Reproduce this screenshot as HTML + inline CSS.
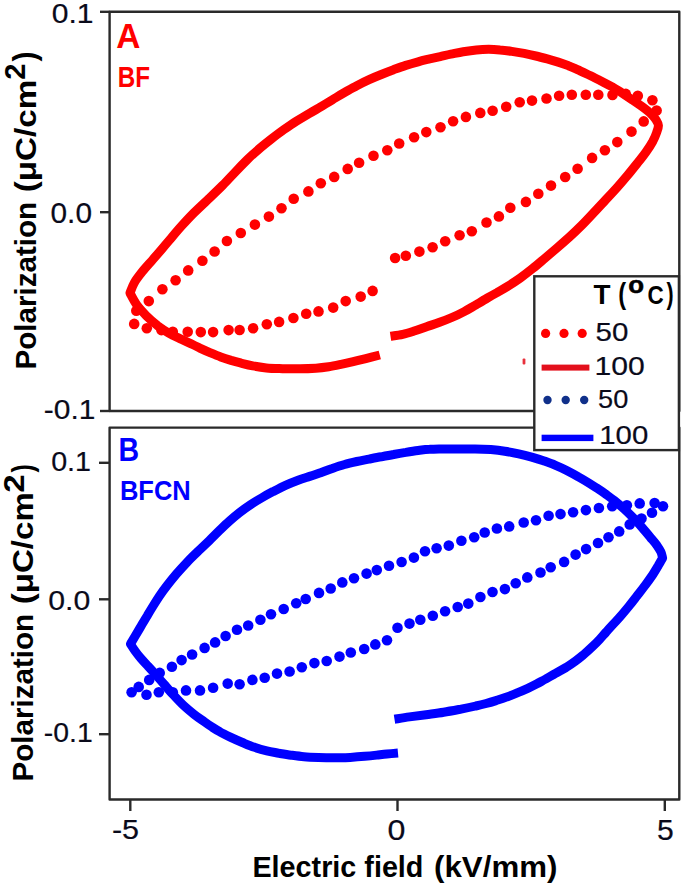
<!DOCTYPE html>
<html><head><meta charset="utf-8"><style>
html,body{margin:0;padding:0;background:#fff;}
svg{display:block;font-family:"Liberation Sans",sans-serif;}
</style></head><body>
<svg width="685" height="887" viewBox="0 0 685 887">
<rect width="685" height="887" fill="#fff"/>
<path d="M109.6,11.8 H679.3 V411 H109.6 Z" fill="none" stroke="#2a2a2a" stroke-width="2.4" stroke-linejoin="round"/>
<path d="M109.6,427.6 H679.3 V799.5 H109.6 Z" fill="none" stroke="#2a2a2a" stroke-width="2.4" stroke-linejoin="round"/>
<line x1="100" y1="11.8" x2="109.6" y2="11.8" stroke="#2a2a2a" stroke-width="2.4"/>
<line x1="100" y1="212.2" x2="109.6" y2="212.2" stroke="#2a2a2a" stroke-width="2.4"/>
<line x1="100" y1="411" x2="109.6" y2="411" stroke="#2a2a2a" stroke-width="2.4"/>
<line x1="99" y1="462.8" x2="109.6" y2="462.8" stroke="#2a2a2a" stroke-width="2.4"/>
<line x1="99" y1="599.3" x2="109.6" y2="599.3" stroke="#2a2a2a" stroke-width="2.4"/>
<line x1="99" y1="734.2" x2="109.6" y2="734.2" stroke="#2a2a2a" stroke-width="2.4"/>
<line x1="130.3" y1="799.5" x2="130.3" y2="811" stroke="#2a2a2a" stroke-width="2.4"/>
<line x1="397.5" y1="799.5" x2="397.5" y2="811" stroke="#2a2a2a" stroke-width="2.4"/>
<line x1="664.8" y1="799.5" x2="664.8" y2="811" stroke="#2a2a2a" stroke-width="2.4"/>
<path d="M390.5,336.2 C392.5,335.9 398.7,335.2 402.8,334.3 C406.9,333.5 410.9,332.1 415.0,330.8 C419.1,329.5 423.2,327.9 427.3,326.5 C431.4,325.1 435.5,323.8 439.6,322.3 C443.7,320.8 447.7,319.3 451.8,317.5 C455.9,315.8 460.1,313.8 464.2,311.6 C468.3,309.4 472.7,306.7 476.6,304.5 C480.4,302.2 484.0,300.0 487.4,298.0 C490.8,296.0 493.5,294.5 497.0,292.6 C500.4,290.6 504.1,288.5 508.0,286.1 C511.9,283.7 516.2,280.9 520.3,278.0 C524.4,275.1 528.5,271.9 532.6,268.6 C536.7,265.3 540.7,261.8 544.8,258.3 C548.9,254.8 553.0,251.3 557.1,247.8 C561.2,244.3 565.2,240.8 569.3,237.1 C573.4,233.4 577.5,229.5 581.5,225.5 C585.6,221.5 589.5,217.2 593.5,212.9 C597.5,208.7 601.5,204.3 605.4,200.1 C609.4,195.9 613.4,191.6 617.1,187.5 C620.9,183.3 624.3,179.3 627.7,175.2 C631.0,171.2 634.1,167.3 637.2,163.4 C640.3,159.5 643.5,155.5 646.1,151.8 C648.8,148.1 651.1,144.4 652.9,141.2 C654.6,138.0 655.7,135.2 656.6,132.6 C657.5,130.0 658.5,127.7 658.4,125.5 C658.3,123.3 657.1,121.6 655.8,119.5 C654.4,117.5 652.6,115.4 650.2,113.1 C647.8,110.8 644.4,108.3 641.1,105.9 C637.8,103.5 634.0,101.0 630.6,98.7 C627.2,96.4 623.9,94.2 620.9,92.2 C617.8,90.3 615.1,88.6 612.3,86.9 C609.4,85.3 606.7,83.9 603.8,82.4 C600.9,80.9 597.9,79.4 595.0,78.0 C592.1,76.6 589.2,75.1 586.3,73.7 C583.4,72.3 580.5,71.0 577.5,69.6 C574.5,68.3 571.6,66.9 568.4,65.7 C565.2,64.4 561.7,63.2 558.2,62.1 C554.6,61.0 550.9,59.9 547.2,58.9 C543.5,57.9 539.8,56.9 535.9,56.0 C532.1,55.1 528.1,54.2 524.1,53.4 C520.1,52.7 515.8,52.0 511.8,51.4 C507.8,50.8 503.9,50.3 500.0,50.0 C496.2,49.6 492.6,49.3 488.7,49.3 C484.7,49.3 480.6,49.5 476.4,49.9 C472.1,50.3 467.5,51.0 463.2,51.7 C459.0,52.4 454.8,53.4 450.9,54.2 C447.1,55.0 443.8,55.8 440.2,56.6 C436.7,57.4 433.4,58.1 429.7,58.9 C426.0,59.8 422.1,60.7 418.1,61.8 C414.1,62.9 409.9,64.1 405.8,65.4 C401.7,66.7 397.7,68.2 393.6,69.7 C389.5,71.2 385.4,72.8 381.3,74.5 C377.2,76.1 373.2,77.8 369.1,79.7 C365.0,81.6 360.9,83.6 356.8,85.7 C352.7,87.8 348.6,90.2 344.5,92.5 C340.4,94.8 336.3,97.4 332.3,99.8 C328.2,102.2 324.2,104.8 320.2,107.2 C316.2,109.5 312.3,111.8 308.2,114.1 C304.2,116.5 300.2,118.8 296.1,121.3 C292.0,123.9 287.9,126.8 283.8,129.7 C279.6,132.7 275.4,135.9 271.2,139.1 C267.1,142.3 263.0,145.5 259.0,149.0 C255.0,152.4 251.1,155.8 247.2,159.7 C243.2,163.6 239.1,167.9 235.1,172.2 C231.0,176.5 227.0,181.0 222.7,185.3 C218.3,189.7 213.8,194.0 209.0,198.6 C204.2,203.1 198.6,208.2 194.0,212.8 C189.4,217.4 185.2,222.0 181.5,226.1 C177.8,230.2 174.8,233.8 171.8,237.4 C168.7,241.0 166.0,244.1 162.9,247.8 C159.9,251.4 156.7,255.1 153.2,259.1 C149.8,263.1 145.5,267.6 142.4,271.6 C139.2,275.6 136.3,279.3 134.2,282.9 C132.2,286.4 130.7,291.3 130.0,293.0 C131.1,295.0 134.0,301.1 136.8,304.9 C139.6,308.8 143.3,312.6 146.7,316.1 C150.1,319.5 153.8,322.7 157.4,325.6 C161.1,328.4 164.8,330.8 168.8,333.1 C172.8,335.4 177.7,337.5 181.7,339.4 C185.6,341.3 189.5,343.0 192.6,344.5 C195.7,346.0 197.6,347.0 200.4,348.4 C203.2,349.7 206.0,351.0 209.4,352.4 C212.8,353.8 217.1,355.6 220.7,356.9 C224.3,358.2 227.7,359.3 231.1,360.4 C234.5,361.4 237.6,362.2 241.2,363.2 C244.8,364.1 248.6,365.1 252.8,365.9 C257.0,366.7 261.4,367.4 266.4,367.9 C271.3,368.4 277.0,368.5 282.6,368.7 C288.2,368.8 294.6,368.8 300.1,368.7 C305.6,368.7 311.1,368.5 315.9,368.2 C320.6,367.9 324.5,367.4 328.7,366.8 C332.9,366.2 336.8,365.3 340.9,364.4 C345.0,363.6 349.0,362.7 353.2,361.7 C357.4,360.7 361.4,359.7 365.8,358.6 C370.2,357.5 377.5,355.6 379.8,355.0" fill="none" stroke="#ff0000" stroke-width="9" stroke-linejoin="round" stroke-linecap="butt"/>
<circle cx="240.8" cy="233.0" r="5.3" fill="#ff0000"/>
<circle cx="226.9" cy="241.0" r="5.3" fill="#ff0000"/>
<circle cx="214.6" cy="251.5" r="5.3" fill="#ff0000"/>
<circle cx="202.4" cy="260.8" r="5.3" fill="#ff0000"/>
<circle cx="188.2" cy="270.4" r="5.3" fill="#ff0000"/>
<circle cx="175.6" cy="280.2" r="5.3" fill="#ff0000"/>
<circle cx="162.4" cy="289.2" r="5.3" fill="#ff0000"/>
<circle cx="486.5" cy="222.5" r="5.3" fill="#ff0000"/>
<circle cx="498.9" cy="216.4" r="5.3" fill="#ff0000"/>
<circle cx="510.3" cy="207.8" r="5.3" fill="#ff0000"/>
<circle cx="525.9" cy="201.9" r="5.3" fill="#ff0000"/>
<circle cx="538.3" cy="193.7" r="5.3" fill="#ff0000"/>
<circle cx="551.0" cy="185.6" r="5.3" fill="#ff0000"/>
<circle cx="565.2" cy="177.0" r="5.3" fill="#ff0000"/>
<circle cx="577.6" cy="168.8" r="5.3" fill="#ff0000"/>
<circle cx="592.1" cy="157.9" r="5.3" fill="#ff0000"/>
<circle cx="604.9" cy="150.2" r="5.3" fill="#ff0000"/>
<circle cx="617.3" cy="142.1" r="5.3" fill="#ff0000"/>
<circle cx="631.5" cy="131.6" r="5.3" fill="#ff0000"/>
<circle cx="643.7" cy="121.4" r="5.3" fill="#ff0000"/>
<circle cx="656.6" cy="110.6" r="5.3" fill="#ff0000"/>
<circle cx="652.4" cy="100.2" r="5.3" fill="#ff0000"/>
<circle cx="637.8" cy="95.7" r="5.3" fill="#ff0000"/>
<circle cx="625.8" cy="93.9" r="5.3" fill="#ff0000"/>
<circle cx="612.5" cy="94.9" r="5.3" fill="#ff0000"/>
<circle cx="598.3" cy="94.8" r="5.3" fill="#ff0000"/>
<circle cx="585.8" cy="94.8" r="5.3" fill="#ff0000"/>
<circle cx="571.8" cy="94.8" r="5.3" fill="#ff0000"/>
<circle cx="440.5" cy="127.2" r="5.3" fill="#ff0000"/>
<circle cx="453.1" cy="121.3" r="5.3" fill="#ff0000"/>
<circle cx="465.9" cy="116.9" r="5.3" fill="#ff0000"/>
<circle cx="480.3" cy="112.9" r="5.3" fill="#ff0000"/>
<circle cx="492.6" cy="110.7" r="5.3" fill="#ff0000"/>
<circle cx="506.2" cy="106.7" r="5.3" fill="#ff0000"/>
<circle cx="519.7" cy="102.3" r="5.3" fill="#ff0000"/>
<circle cx="532.0" cy="100.6" r="5.3" fill="#ff0000"/>
<circle cx="546.5" cy="98.5" r="5.3" fill="#ff0000"/>
<circle cx="559.1" cy="95.8" r="5.3" fill="#ff0000"/>
<circle cx="387.3" cy="150.3" r="5.3" fill="#ff0000"/>
<circle cx="399.2" cy="143.5" r="5.3" fill="#ff0000"/>
<circle cx="414.1" cy="137.2" r="5.3" fill="#ff0000"/>
<circle cx="426.3" cy="132.1" r="5.3" fill="#ff0000"/>
<circle cx="293.7" cy="198.8" r="5.3" fill="#ff0000"/>
<circle cx="308.4" cy="191.4" r="5.3" fill="#ff0000"/>
<circle cx="320.8" cy="183.2" r="5.3" fill="#ff0000"/>
<circle cx="334.2" cy="176.9" r="5.3" fill="#ff0000"/>
<circle cx="148.8" cy="301.1" r="5.3" fill="#ff0000"/>
<circle cx="134.2" cy="323.9" r="5.3" fill="#ff0000"/>
<circle cx="146.8" cy="328.2" r="5.3" fill="#ff0000"/>
<circle cx="136.3" cy="310.8" r="5.3" fill="#ff0000"/>
<circle cx="161.4" cy="330.1" r="5.3" fill="#ff0000"/>
<circle cx="172.8" cy="331.8" r="5.3" fill="#ff0000"/>
<circle cx="187.7" cy="331.8" r="5.3" fill="#ff0000"/>
<circle cx="200.8" cy="332.1" r="5.3" fill="#ff0000"/>
<circle cx="213.1" cy="332.1" r="5.3" fill="#ff0000"/>
<circle cx="228.6" cy="330.1" r="5.3" fill="#ff0000"/>
<circle cx="239.6" cy="330.0" r="5.3" fill="#ff0000"/>
<circle cx="253.1" cy="328.2" r="5.3" fill="#ff0000"/>
<circle cx="266.8" cy="324.2" r="5.3" fill="#ff0000"/>
<circle cx="279.1" cy="321.9" r="5.3" fill="#ff0000"/>
<circle cx="293.4" cy="318.0" r="5.3" fill="#ff0000"/>
<circle cx="306.2" cy="313.7" r="5.3" fill="#ff0000"/>
<circle cx="318.5" cy="311.4" r="5.3" fill="#ff0000"/>
<circle cx="333.2" cy="307.6" r="5.3" fill="#ff0000"/>
<circle cx="345.7" cy="301.1" r="5.3" fill="#ff0000"/>
<circle cx="360.7" cy="296.6" r="5.3" fill="#ff0000"/>
<circle cx="372.6" cy="290.9" r="5.3" fill="#ff0000"/>
<circle cx="395.1" cy="258.0" r="5.3" fill="#ff0000"/>
<circle cx="405.8" cy="255.8" r="5.3" fill="#ff0000"/>
<circle cx="419.4" cy="251.6" r="5.3" fill="#ff0000"/>
<circle cx="254.9" cy="224.6" r="5.3" fill="#ff0000"/>
<circle cx="268.9" cy="216.6" r="5.3" fill="#ff0000"/>
<circle cx="281.5" cy="208.3" r="5.3" fill="#ff0000"/>
<circle cx="347.7" cy="168.9" r="5.3" fill="#ff0000"/>
<circle cx="359.1" cy="162.8" r="5.3" fill="#ff0000"/>
<circle cx="432.6" cy="247.3" r="5.3" fill="#ff0000"/>
<circle cx="445.2" cy="241.2" r="5.3" fill="#ff0000"/>
<circle cx="459.6" cy="235.2" r="5.3" fill="#ff0000"/>
<circle cx="471.8" cy="231.2" r="5.3" fill="#ff0000"/>
<circle cx="373.5" cy="155.8" r="5.3" fill="#ff0000"/>
<path d="M394.5,719.3 C397.0,718.9 404.1,717.7 409.4,716.9 C414.7,716.2 420.4,715.5 426.1,714.7 C431.8,713.9 437.8,713.2 443.6,712.2 C449.4,711.3 455.7,710.1 461.1,709.1 C466.5,708.1 471.7,707.0 475.8,706.0 C480.0,705.1 482.8,704.4 486.1,703.5 C489.5,702.6 492.5,701.7 496.0,700.6 C499.4,699.5 503.3,698.3 506.9,696.9 C510.5,695.6 514.3,694.1 517.8,692.6 C521.3,691.2 524.7,689.7 527.8,688.3 C531.0,686.8 533.6,685.5 536.5,684.0 C539.5,682.5 542.3,680.8 545.5,679.1 C548.6,677.3 552.1,675.4 555.5,673.4 C558.9,671.5 562.6,669.5 566.0,667.5 C569.3,665.4 572.4,663.3 575.4,661.1 C578.5,658.9 581.3,656.5 584.2,654.1 C587.1,651.7 590.0,649.0 592.5,646.6 C595.1,644.1 597.5,641.7 599.8,639.2 C602.0,636.8 603.9,634.5 606.1,632.1 C608.2,629.7 610.3,627.4 612.7,624.8 C615.1,622.1 617.8,619.4 620.4,616.4 C623.1,613.3 625.9,609.9 628.7,606.5 C631.5,603.1 634.3,599.4 637.1,595.8 C639.9,592.2 642.9,588.4 645.5,584.9 C648.1,581.4 650.6,577.8 652.8,574.6 C654.9,571.4 656.6,568.4 658.3,565.6 C659.9,562.8 661.9,559.3 662.6,558.0 C662.3,557.0 661.9,554.0 660.9,551.9 C659.9,549.8 658.5,547.7 656.8,545.2 C655.0,542.8 652.7,540.2 650.3,537.3 C647.9,534.4 645.1,531.0 642.3,527.8 C639.5,524.6 636.6,521.3 633.6,518.2 C630.6,515.1 627.6,512.1 624.4,509.2 C621.2,506.3 617.5,503.2 614.3,500.6 C611.1,498.1 607.8,495.7 605.0,493.6 C602.2,491.6 600.2,490.3 597.6,488.6 C594.9,486.9 592.4,485.3 589.2,483.3 C586.0,481.3 582.2,479.0 578.4,476.9 C574.7,474.7 570.6,472.5 566.7,470.5 C562.8,468.5 558.9,466.7 555.0,465.1 C551.1,463.4 547.3,462.1 543.4,460.7 C539.5,459.4 535.8,458.3 531.7,457.1 C527.6,456.0 523.2,454.9 518.7,453.9 C514.2,452.9 509.3,451.9 504.7,451.2 C500.1,450.4 495.8,449.9 490.8,449.5 C485.9,449.2 480.6,449.1 475.0,449.1 C469.5,449.0 463.0,449.0 457.5,449.0 C452.0,449.0 446.6,448.9 442.0,448.9 C437.3,449.0 433.7,449.0 429.7,449.3 C425.7,449.5 422.1,450.0 418.1,450.5 C414.1,451.0 409.9,451.7 405.8,452.4 C401.7,453.0 397.7,453.7 393.6,454.5 C389.5,455.2 385.4,456.0 381.3,456.8 C377.2,457.5 373.2,458.3 369.1,459.1 C365.0,459.9 360.9,460.6 356.8,461.5 C352.7,462.4 348.6,463.3 344.5,464.5 C340.4,465.6 336.2,467.1 332.3,468.5 C328.3,469.8 324.4,471.4 320.7,472.7 C316.9,474.0 313.5,475.2 309.7,476.4 C306.0,477.6 302.1,478.7 298.1,480.2 C294.1,481.7 289.7,483.4 285.5,485.3 C281.3,487.2 277.0,489.5 273.0,491.6 C269.0,493.7 265.2,495.8 261.5,498.0 C257.7,500.2 254.2,502.3 250.5,504.8 C246.9,507.2 243.1,509.9 239.5,512.6 C235.9,515.4 232.4,518.4 229.1,521.4 C225.7,524.4 222.7,527.4 219.4,530.6 C216.1,533.9 212.7,537.3 209.2,540.7 C205.6,544.1 201.8,547.7 198.1,551.2 C194.5,554.8 190.6,558.5 187.0,562.3 C183.4,566.1 179.7,570.2 176.4,574.0 C173.1,577.9 169.9,581.8 167.1,585.5 C164.2,589.2 161.6,592.8 159.3,596.2 C157.0,599.7 155.0,602.9 153.1,606.0 C151.1,609.2 149.4,612.0 147.5,615.3 C145.5,618.5 143.4,622.1 141.4,625.5 C139.4,628.9 137.3,632.5 135.5,635.6 C133.7,638.7 131.3,642.6 130.5,644.0 C131.3,645.2 133.3,648.7 135.1,651.0 C136.8,653.4 138.7,655.8 140.8,658.2 C142.9,660.6 145.0,662.9 147.4,665.5 C149.8,668.1 152.4,670.9 155.2,674.1 C158.0,677.3 161.3,681.0 164.3,684.5 C167.3,688.0 170.3,691.6 173.5,695.0 C176.7,698.5 179.9,702.0 183.4,705.2 C186.8,708.4 190.7,711.6 194.2,714.4 C197.6,717.1 201.2,719.5 204.2,721.6 C207.2,723.8 209.5,725.4 212.1,727.1 C214.7,728.8 216.8,730.2 219.9,731.8 C222.9,733.5 226.6,735.3 230.3,737.1 C234.1,738.9 238.3,740.8 242.4,742.5 C246.4,744.2 250.4,746.0 254.5,747.3 C258.6,748.7 262.7,749.9 266.8,750.9 C270.9,751.9 275.0,752.5 279.1,753.3 C283.2,754.0 287.2,754.7 291.3,755.2 C295.5,755.8 299.5,756.4 304.0,756.7 C308.5,757.1 313.4,757.3 318.5,757.5 C323.5,757.7 329.1,757.8 334.4,757.8 C339.7,757.8 345.1,757.6 350.2,757.4 C355.2,757.1 360.3,756.7 364.7,756.3 C369.1,755.9 372.9,755.5 376.6,755.1 C380.3,754.7 383.3,754.3 386.9,754.0 C390.4,753.7 396.1,753.2 398.0,753.0" fill="none" stroke="#0000ff" stroke-width="9" stroke-linejoin="round" stroke-linecap="butt"/>
<circle cx="564.1" cy="561.9" r="5.3" fill="#0000ff"/>
<circle cx="575.6" cy="554.6" r="5.3" fill="#0000ff"/>
<circle cx="586.1" cy="549.1" r="5.3" fill="#0000ff"/>
<circle cx="598.0" cy="543.0" r="5.3" fill="#0000ff"/>
<circle cx="608.5" cy="537.3" r="5.3" fill="#0000ff"/>
<circle cx="619.2" cy="531.4" r="5.3" fill="#0000ff"/>
<circle cx="560.5" cy="514.1" r="5.3" fill="#0000ff"/>
<circle cx="573.1" cy="512.2" r="5.3" fill="#0000ff"/>
<circle cx="585.9" cy="510.1" r="5.3" fill="#0000ff"/>
<circle cx="598.9" cy="508.0" r="5.3" fill="#0000ff"/>
<circle cx="612.2" cy="506.2" r="5.3" fill="#0000ff"/>
<circle cx="626.9" cy="505.2" r="5.3" fill="#0000ff"/>
<circle cx="639.7" cy="503.4" r="5.3" fill="#0000ff"/>
<circle cx="654.6" cy="503.1" r="5.3" fill="#0000ff"/>
<circle cx="663.0" cy="506.2" r="5.3" fill="#0000ff"/>
<circle cx="652.0" cy="512.7" r="5.3" fill="#0000ff"/>
<circle cx="641.5" cy="518.5" r="5.3" fill="#0000ff"/>
<circle cx="629.7" cy="524.4" r="5.3" fill="#0000ff"/>
<circle cx="448.8" cy="545.6" r="5.3" fill="#0000ff"/>
<circle cx="461.4" cy="540.7" r="5.3" fill="#0000ff"/>
<circle cx="474.2" cy="537.2" r="5.3" fill="#0000ff"/>
<circle cx="484.7" cy="532.5" r="5.3" fill="#0000ff"/>
<circle cx="496.9" cy="528.5" r="5.3" fill="#0000ff"/>
<circle cx="509.2" cy="526.4" r="5.3" fill="#0000ff"/>
<circle cx="523.7" cy="522.5" r="5.3" fill="#0000ff"/>
<circle cx="536.0" cy="520.2" r="5.3" fill="#0000ff"/>
<circle cx="548.6" cy="515.8" r="5.3" fill="#0000ff"/>
<circle cx="225.6" cy="636.0" r="5.3" fill="#0000ff"/>
<circle cx="215.1" cy="642.4" r="5.3" fill="#0000ff"/>
<circle cx="204.6" cy="647.9" r="5.3" fill="#0000ff"/>
<circle cx="131.6" cy="692.2" r="5.3" fill="#0000ff"/>
<circle cx="138.7" cy="686.9" r="5.3" fill="#0000ff"/>
<circle cx="146.5" cy="694.8" r="5.3" fill="#0000ff"/>
<circle cx="149.2" cy="679.9" r="5.3" fill="#0000ff"/>
<circle cx="159.7" cy="672.9" r="5.3" fill="#0000ff"/>
<circle cx="171.9" cy="666.8" r="5.3" fill="#0000ff"/>
<circle cx="181.6" cy="660.1" r="5.3" fill="#0000ff"/>
<circle cx="192.1" cy="654.5" r="5.3" fill="#0000ff"/>
<circle cx="158.8" cy="692.2" r="5.3" fill="#0000ff"/>
<circle cx="172.8" cy="692.2" r="5.3" fill="#0000ff"/>
<circle cx="186.0" cy="690.4" r="5.3" fill="#0000ff"/>
<circle cx="200.0" cy="690.4" r="5.3" fill="#0000ff"/>
<circle cx="213.1" cy="687.8" r="5.3" fill="#0000ff"/>
<circle cx="227.7" cy="683.6" r="5.3" fill="#0000ff"/>
<circle cx="239.6" cy="684.3" r="5.3" fill="#0000ff"/>
<circle cx="252.4" cy="679.9" r="5.3" fill="#0000ff"/>
<circle cx="264.7" cy="677.7" r="5.3" fill="#0000ff"/>
<circle cx="277.0" cy="673.6" r="5.3" fill="#0000ff"/>
<circle cx="289.6" cy="671.5" r="5.3" fill="#0000ff"/>
<circle cx="301.8" cy="667.2" r="5.3" fill="#0000ff"/>
<circle cx="314.4" cy="663.1" r="5.3" fill="#0000ff"/>
<circle cx="326.7" cy="661.0" r="5.3" fill="#0000ff"/>
<circle cx="339.5" cy="656.6" r="5.3" fill="#0000ff"/>
<circle cx="350.8" cy="652.5" r="5.3" fill="#0000ff"/>
<circle cx="237.0" cy="629.8" r="5.3" fill="#0000ff"/>
<circle cx="248.2" cy="625.5" r="5.3" fill="#0000ff"/>
<circle cx="260.4" cy="619.8" r="5.3" fill="#0000ff"/>
<circle cx="271.0" cy="614.2" r="5.3" fill="#0000ff"/>
<circle cx="283.7" cy="609.0" r="5.3" fill="#0000ff"/>
<circle cx="296.2" cy="603.2" r="5.3" fill="#0000ff"/>
<circle cx="305.7" cy="599.0" r="5.3" fill="#0000ff"/>
<circle cx="319.0" cy="592.9" r="5.3" fill="#0000ff"/>
<circle cx="330.7" cy="588.5" r="5.3" fill="#0000ff"/>
<circle cx="342.3" cy="582.4" r="5.3" fill="#0000ff"/>
<circle cx="354.0" cy="578.3" r="5.3" fill="#0000ff"/>
<circle cx="366.6" cy="573.6" r="5.3" fill="#0000ff"/>
<circle cx="376.8" cy="570.1" r="5.3" fill="#0000ff"/>
<circle cx="389.0" cy="565.8" r="5.3" fill="#0000ff"/>
<circle cx="401.6" cy="562.0" r="5.3" fill="#0000ff"/>
<circle cx="413.9" cy="557.6" r="5.3" fill="#0000ff"/>
<circle cx="425.0" cy="551.2" r="5.3" fill="#0000ff"/>
<circle cx="436.6" cy="548.2" r="5.3" fill="#0000ff"/>
<circle cx="397.5" cy="627.7" r="5.3" fill="#0000ff"/>
<circle cx="409.5" cy="623.6" r="5.3" fill="#0000ff"/>
<circle cx="420.3" cy="619.8" r="5.3" fill="#0000ff"/>
<circle cx="432.8" cy="615.7" r="5.3" fill="#0000ff"/>
<circle cx="445.1" cy="611.3" r="5.3" fill="#0000ff"/>
<circle cx="457.7" cy="607.0" r="5.3" fill="#0000ff"/>
<circle cx="468.3" cy="603.6" r="5.3" fill="#0000ff"/>
<circle cx="480.4" cy="597.0" r="5.3" fill="#0000ff"/>
<circle cx="492.5" cy="592.0" r="5.3" fill="#0000ff"/>
<circle cx="504.9" cy="589.1" r="5.3" fill="#0000ff"/>
<circle cx="515.7" cy="583.3" r="5.3" fill="#0000ff"/>
<circle cx="527.3" cy="577.4" r="5.3" fill="#0000ff"/>
<circle cx="540.5" cy="572.5" r="5.3" fill="#0000ff"/>
<circle cx="550.7" cy="567.2" r="5.3" fill="#0000ff"/>
<circle cx="364.2" cy="649.0" r="5.3" fill="#0000ff"/>
<circle cx="375.3" cy="644.4" r="5.3" fill="#0000ff"/>
<circle cx="387.0" cy="640.3" r="5.3" fill="#0000ff"/>
<rect x="522.6" y="358.5" width="2.8" height="6" rx="1" fill="#e8303c"/>
<text transform="translate(51.70,22.52) scale(1.0840,1)" font-size="27.75" font-weight="normal" fill="#0a0a1a" stroke="#0a0a1a" stroke-width="0.2">0.1</text>
<text transform="translate(50.51,223.11) scale(1.0287,1)" font-size="29.01" font-weight="normal" fill="#0a0a1a" stroke="#0a0a1a" stroke-width="0.2">0.0</text>
<text transform="translate(43.75,419.42) scale(1.0639,1)" font-size="28.17" font-weight="normal" fill="#0a0a1a" stroke="#0a0a1a" stroke-width="0.2">-0.1</text>
<text transform="translate(51.15,471.02) scale(1.0341,1)" font-size="27.75" font-weight="normal" fill="#0a0a1a" stroke="#0a0a1a" stroke-width="0.2">0.1</text>
<text transform="translate(48.19,610.22) scale(1.0678,1)" font-size="28.31" font-weight="normal" fill="#0a0a1a" stroke="#0a0a1a" stroke-width="0.2">0.0</text>
<text transform="translate(43.82,742.43) scale(1.0436,1)" font-size="27.18" font-weight="normal" fill="#0a0a1a" stroke="#0a0a1a" stroke-width="0.2">-0.1</text>
<text transform="translate(111.92,839.42) scale(1.0848,1)" font-size="28.17" font-weight="normal" fill="#0a0a1a" stroke="#0a0a1a" stroke-width="0.2">-5</text>
<text transform="translate(387.41,839.81) scale(1.1211,1)" font-size="28.73" font-weight="normal" fill="#0a0a1a" stroke="#0a0a1a" stroke-width="0.2">0</text>
<text transform="translate(657.10,839.81) scale(1.0478,1)" font-size="28.73" font-weight="normal" fill="#0a0a1a" stroke="#0a0a1a" stroke-width="0.2">5</text>
<text transform="translate(252.43,876.70) scale(0.9822,1)" font-size="29.28" font-weight="bold" fill="#000">Electric field</text>
<text transform="translate(434.04,876.70) scale(1.0687,1)" font-size="29.28" font-weight="bold" fill="#000">(kV/mm)</text>
<text transform="translate(35.60,369.42) rotate(-90) scale(1.0252,1)" font-size="28.84" font-weight="bold" fill="#000">Polarization</text>
<text transform="translate(35.60,192.26) rotate(-90) scale(1.1498,1)" font-size="28.84" font-weight="bold" fill="#000">(μC/cm</text>
<text transform="translate(25.40,79.82) rotate(-90) scale(1.0107,1)" font-size="28.86" font-weight="bold" fill="#000">2</text>
<text transform="translate(35.40,61.45) rotate(-90) scale(0.9959,1)" font-size="30.48" font-weight="bold" fill="#000">)</text>
<text transform="translate(33.30,781.42) rotate(-90) scale(1.0304,1)" font-size="28.70" font-weight="bold" fill="#000">Polarization</text>
<text transform="translate(33.30,604.25) rotate(-90) scale(1.1524,1)" font-size="28.70" font-weight="bold" fill="#000">(μC/cm</text>
<text transform="translate(23.70,492.66) rotate(-90) scale(1.1366,1)" font-size="29.14" font-weight="bold" fill="#000">2</text>
<text transform="translate(33.14,472.52) rotate(-90) scale(0.8142,1)" font-size="30.27" font-weight="bold" fill="#000">)</text>
<text transform="translate(116.36,47.50) scale(0.9652,1)" font-size="34.64" font-weight="bold" fill="#ff0000">A</text>
<text transform="translate(117.83,86.90) scale(0.8276,1)" font-size="29.28" font-weight="bold" fill="#ff0000">BF</text>
<text transform="translate(118.45,461.00) scale(0.8411,1)" font-size="33.91" font-weight="bold" fill="#0000ff">B</text>
<text transform="translate(119.94,499.93) scale(0.9536,1)" font-size="26.76" font-weight="bold" fill="#0000ff">BFCN</text>
<rect x="534.3" y="276.3" width="144.6" height="173.8" fill="#ffffff" stroke="#2a2a2a" stroke-width="2.4"/>
<circle cx="545.6" cy="333.4" r="4.6" fill="#ff0000"/>
<circle cx="564.0" cy="333.4" r="4.6" fill="#ff0000"/>
<circle cx="582.2" cy="333.4" r="4.6" fill="#ff0000"/>
<rect x="541.6" y="364.6" width="47.8" height="6" fill="#e3101c"/>
<circle cx="547.5" cy="400" r="4.2" fill="#10308a"/>
<circle cx="565.7" cy="400" r="4.2" fill="#10308a"/>
<circle cx="584.2" cy="400" r="4.2" fill="#10308a"/>
<rect x="541.6" y="434.7" width="51.8" height="6.4" fill="#0000ff"/>
<text transform="translate(595.62,340.84) scale(1.1389,1)" font-size="25.92" font-weight="normal" fill="#0a0a1a" stroke="#0a0a1a" stroke-width="0.2">50</text>
<text transform="translate(594.54,375.23) scale(1.1318,1)" font-size="26.62" font-weight="normal" fill="#0a0a1a" stroke="#0a0a1a" stroke-width="0.2">100</text>
<text transform="translate(598.11,407.95) scale(1.0905,1)" font-size="24.93" font-weight="normal" fill="#0a0a1a" stroke="#0a0a1a" stroke-width="0.2">50</text>
<text transform="translate(599.30,444.15) scale(1.1775,1)" font-size="24.93" font-weight="normal" fill="#0a0a1a" stroke="#0a0a1a" stroke-width="0.2">100</text>
<text transform="translate(593.52,303.60) scale(1.0042,1)" font-size="27.68" font-weight="bold" fill="#000">T</text>
<text transform="translate(618.32,303.88) scale(0.8224,1)" font-size="28.66" font-weight="bold" fill="#000">(</text>
<text transform="translate(628.27,292.87) scale(1.1194,1)" font-size="23.09" font-weight="bold" fill="#000" stroke="#000" stroke-width="0.5">o</text>
<text transform="translate(647.50,304.15) scale(0.8852,1)" font-size="25.35" font-weight="bold" fill="#000">C</text>
<text transform="translate(666.49,303.88) scale(0.7476,1)" font-size="28.66" font-weight="bold" fill="#000">)</text>
</svg>
</body></html>
